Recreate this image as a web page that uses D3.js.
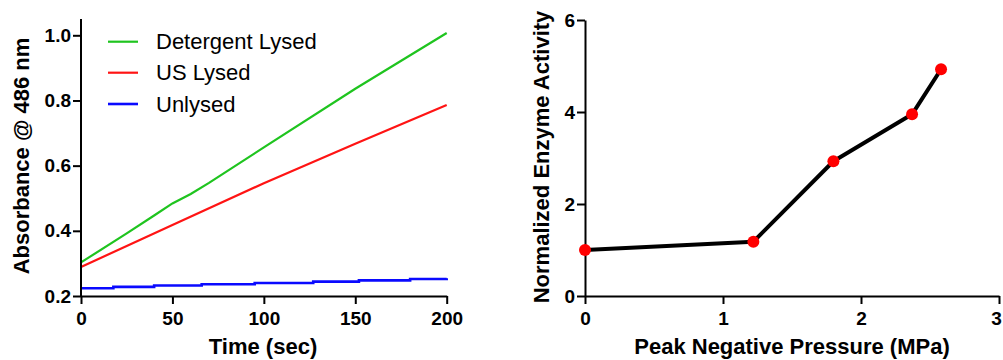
<!DOCTYPE html>
<html>
<head>
<meta charset="utf-8">
<script src="https://cdn.jsdelivr.net/npm/d3@7"></script>
<style>
  body { margin: 0; background: #fff; }
  svg { display: block; font-family: "Liberation Sans", Arial, sans-serif; }
  .axis path, .axis line { stroke: #000; stroke-width: 2; }
  .axis text { font-family: "Liberation Sans", Arial, sans-serif; font-size: 19px; font-weight: bold; fill: #000; }
  .title { font-size: 22px; font-weight: bold; fill: #000; }
  .legend text { font-size: 22px; fill: #000; }
</style>
</head>
<body>
<svg id="chart" width="1003" height="360"></svg>
<script>
// left panel: absorbance over time
const seriesNames = ["Detergent Lysed", "US Lysed", "Unlysed"];
const seriesColors = ["#1fc41f", "#ff1414", "#0a0aff"];
const detergentTime = [0, 25, 40, 50, 60, 70, 100, 150, 200];
const detergentAbs = [0.303, 0.392, 0.447, 0.484, 0.513, 0.547, 0.656, 0.836, 1.007];
const usTime = [0, 50, 100, 150, 200];
const usAbs = [0.289, 0.418, 0.546, 0.667, 0.786];
const unlysedTime = [0, 17.7, 40, 66, 95, 127, 152, 180, 200];
const unlysedAbs = [0.224, 0.228, 0.232, 0.236, 0.240, 0.244, 0.248, 0.252, 0.2545];
const timeTicks = [0, 50, 100, 150, 200];
const absTicks = [0.2, 0.4, 0.6, 0.8, 1.0];

// right panel: enzyme activity vs pressure
const pressure = [0, 1.22, 1.80, 2.37, 2.58];
const activity = [1.0, 1.18, 2.93, 3.95, 4.93];
const pressureTicks = [0, 1, 2, 3];
const activityTicks = [0, 2, 4, 6];

const svg = d3.select("#chart");

// ---- left ----
const xL = d3.scaleLinear().domain([0, 200]).range([81, 446.7]);
const yL = d3.scaleLinear().domain([0.2, 1.05]).range([296, 19]);

const left = svg.append("g");

const series = [
  { name: seriesNames[0], color: seriesColors[0], t: detergentTime, v: detergentAbs, curve: d3.curveLinear, w: 2.2 },
  { name: seriesNames[1], color: seriesColors[1], t: usTime, v: usAbs, curve: d3.curveLinear, w: 2.2 },
  { name: seriesNames[2], color: seriesColors[2], t: unlysedTime, v: unlysedAbs, curve: d3.curveStepAfter, w: 2.6 }
];

series.forEach((s) => {
  const pts = s.t.map((t, i) => [t, s.v[i]]);
  left.append("path")
    .attr("fill", "none")
    .attr("stroke", s.color)
    .attr("stroke-width", s.w)
    .attr("d", d3.line().x((d) => xL(d[0])).y((d) => yL(d[1])).curve(s.curve)(pts));
});

left.append("g")
  .attr("class", "axis")
  .attr("transform", "translate(81,0)")
  .call(d3.axisLeft(yL).tickValues(absTicks).tickFormat(d3.format(".1f")).tickSize(8).tickPadding(2).tickSizeOuter(0))
  .call((g) => g.select(".domain").attr("d", `M0,${yL(1.05)}V${yL(0.2)}`));

left.append("g")
  .attr("class", "axis")
  .attr("transform", "translate(0,296)")
  .call(d3.axisBottom(xL).tickValues(timeTicks).tickFormat(d3.format("d")).tickSize(8).tickPadding(8).tickSizeOuter(0));

left.append("text")
  .attr("class", "title")
  .attr("x", 263)
  .attr("y", 354)
  .attr("text-anchor", "middle")
  .text("Time (sec)");

left.append("text")
  .attr("class", "title")
  .attr("transform", "translate(29,156) rotate(-90)")
  .attr("text-anchor", "middle")
  .text("Absorbance @ 486 nm");

const legend = left.append("g").attr("class", "legend");
const legendY = [41.7, 72.7, 104];
series.forEach((s, i) => {
  legend.append("line")
    .attr("x1", 108).attr("x2", 138)
    .attr("y1", legendY[i]).attr("y2", legendY[i])
    .attr("stroke", s.color)
    .attr("stroke-width", i === 2 ? 2.6 : 2.2);
  legend.append("text")
    .attr("x", 156)
    .attr("y", legendY[i] + 7.5)
    .text(s.name);
});

// ---- right ----
const xR = d3.scaleLinear().domain([0, 3]).range([585, 999]);
const yR = d3.scaleLinear().domain([0, 6]).range([296, 20]);

const right = svg.append("g");

right.append("g")
  .attr("class", "axis")
  .attr("transform", "translate(585,0)")
  .call(d3.axisLeft(yR).tickValues(activityTicks).tickFormat(d3.format("d")).tickSize(8).tickPadding(2).tickSizeOuter(0));

right.append("g")
  .attr("class", "axis")
  .attr("transform", "translate(0,296)")
  .call(d3.axisBottom(xR).tickValues(pressureTicks).tickFormat(d3.format("d")).tickSize(8).tickPadding(8).tickSizeOuter(0))
  .call((g) => g.selectAll(".tick text").filter((d) => d === 3).attr("dx", -3));

const pts = pressure.map((p, i) => [p, activity[i]]);
right.append("path")
  .attr("fill", "none")
  .attr("stroke", "#000")
  .attr("stroke-width", 4)
  .attr("stroke-linejoin", "round")
  .attr("d", d3.line().x((d) => xR(d[0])).y((d) => yR(d[1]))(pts));

right.selectAll("circle")
  .data(pts)
  .join("circle")
  .attr("cx", (d) => xR(d[0]))
  .attr("cy", (d) => yR(d[1]))
  .attr("r", 6)
  .attr("fill", "#ff0000");

right.append("text")
  .attr("class", "title")
  .attr("x", 792)
  .attr("y", 354)
  .attr("text-anchor", "middle")
  .text("Peak Negative Pressure (MPa)");

right.append("text")
  .attr("class", "title")
  .attr("transform", "translate(549,157) rotate(-90)")
  .attr("text-anchor", "middle")
  .text("Normalized Enzyme Activity");
</script>
</body>
</html>
